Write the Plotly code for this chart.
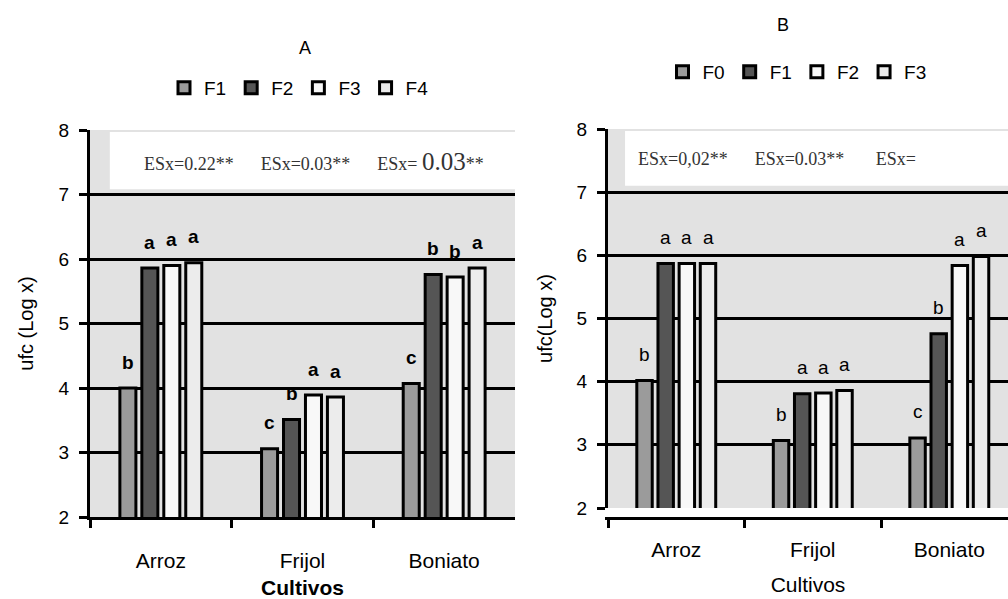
import plotly.graph_objects as go

# ---------------- data ----------------
cultivos = ["Arroz", "Frijol", "Boniato"]

# Panel A
series_A = ["F1", "F2", "F3", "F4"]
A_F1 = [4.00, 3.06, 4.07]
A_F2 = [5.86, 3.51, 5.76]
A_F3 = [5.90, 3.89, 5.72]
A_F4 = [5.94, 3.86, 5.86]
letters_A_F1 = ["b", "c", "c"]
letters_A_F2 = ["a", "b", "b"]
letters_A_F3 = ["a", "a", "b"]
letters_A_F4 = ["a", "a", "a"]

# Panel B
series_B = ["F0", "F1", "F2", "F3"]
B_F0 = [4.02, 3.07, 3.11]
B_F1 = [5.87, 3.81, 4.76]
B_F2 = [5.87, 3.82, 5.84]
B_F3 = [5.87, 3.86, 5.98]
letters_B_F0 = ["b", "b", "c"]
letters_B_F1 = ["a", "a", "b"]
letters_B_F2 = ["a", "a", "a"]
letters_B_F3 = ["a", "a", "a"]

y_ticks = [2, 3, 4, 5, 6, 7, 8]
esx_A = "ESx=0.22**      ESx=0.03**      ESx= <span style='font-size:25px'>0.03</span>**"
esx_B = "ESx=0,02**      ESx=0.03**       ESx="

# ---------------- styling ----------------
colors = ["#9b9b9b", "#555555", "#f8f8f8", "#ececec"]
BARGAP = 0.38
BARGROUPGAP = 0.27
BG = "#e2e2e2"
SANS = "Liberation Sans, Arial, sans-serif"
SERIF = "Liberation Serif, Times New Roman, serif"

fig = go.Figure()

vals_A = [A_F1, A_F2, A_F3, A_F4]
lets_A = [letters_A_F1, letters_A_F2, letters_A_F3, letters_A_F4]
vals_B = [B_F0, B_F1, B_F2, B_F3]
lets_B = [letters_B_F0, letters_B_F1, letters_B_F2, letters_B_F3]

for i, name in enumerate(series_A):
    fig.add_bar(x=cultivos, y=vals_A[i], name=name, xaxis="x", yaxis="y",
                legend="legend",
                marker=dict(color=colors[i], line=dict(color="black", width=3)))
for i, name in enumerate(series_B):
    fig.add_bar(x=cultivos, y=vals_B[i], name=name, xaxis="x2", yaxis="y2",
                legend="legend2",
                marker=dict(color=colors[i], line=dict(color="black", width=3)))

# significance letters above each bar
slot = (1 - BARGAP) / 4
annotations = []
for vals, lets, xr, yr, bold in [(vals_A, lets_A, "x", "y", True),
                                 (vals_B, lets_B, "x2", "y2", False)]:
    for i in range(4):
        for j in range(len(cultivos)):
            xpos = j - (1 - BARGAP) / 2 + slot * (i + 0.5)
            annotations.append(dict(
                x=xpos, y=vals[i][j], xref=xr, yref=yr, text=lets[i][j],
                showarrow=False, xanchor="center", yanchor="middle", yshift=26,
                font=dict(family=SANS, size=19, color="black",
                          weight="bold" if bold else "normal")))

def paper_note(px, py, text, size, family=SANS, xanchor="center", color="black"):
    return dict(x=px / 1008, y=1 - py / 599, xref="paper", yref="paper",
                text=text, showarrow=False, xanchor=xanchor, yanchor="middle",
                font=dict(family=family, size=size, color=color))

annotations.append(paper_note(305, 48, "A", 18))
annotations.append(paper_note(783, 25, "B", 18))
annotations.append(paper_note(314, 161, esx_A, 18, SERIF, color="#333333"))
annotations.append(paper_note(636, 159, esx_B, 18, SERIF, xanchor="left", color="#333333"))

shapes = [
    dict(type="rect", xref="x", yref="y", x0=-0.36, x1=2.5, y0=7.08, y1=7.97,
         fillcolor="white", line=dict(width=0), layer="below"),
    dict(type="rect", xref="x2", yref="y2", x0=-0.375, x1=2.43, y0=7.1, y1=7.97,
         fillcolor="white", line=dict(width=0), layer="below"),
]

def xaxis(domain, rng, title, bold, standoff, tstand):
    return dict(domain=domain, range=rng, type="category", automargin=False,
                showline=True, linecolor="black", linewidth=3,
                ticks="outside", ticklen=8, tickwidth=3, tickcolor="black",
                tickson="boundaries", showgrid=False, fixedrange=True,
                ticklabelstandoff=standoff,
                tickfont=dict(family=SANS, size=21, color="black"),
                title=dict(text=title, standoff=tstand,
                           font=dict(family=SANS, size=21, color="black",
                                     weight="bold" if bold else "normal")))

def yaxis(domain, anchor, title, tstand):
    return dict(domain=domain, anchor=anchor, range=[2, 8], tickvals=y_ticks,
                automargin=False, fixedrange=True,
                showline=True, linecolor="black", linewidth=3,
                ticks="outside", ticklen=8, tickwidth=3, tickcolor="black",
                showgrid=True, gridcolor="black", gridwidth=3, zeroline=False,
                ticklabelstandoff=6,
                tickfont=dict(family=SANS, size=19, color="black"),
                title=dict(text=title, standoff=tstand,
                           font=dict(family=SANS, size=20, color="black")))

fig.update_layout(
    width=1008, height=599,
    margin=dict(l=0, r=0, t=0, b=0, autoexpand=False),
    paper_bgcolor="white", plot_bgcolor=BG,
    barmode="group", bargap=BARGAP, bargroupgap=BARGROUPGAP,
    xaxis=xaxis([90 / 1008, 515 / 1008], [-0.5, 2.5], "Cultivos", True, 23, 12),
    yaxis=yaxis([1 - 517 / 599, 1 - 130 / 599], "x", "ufc (Log x)", 20),
    xaxis2=xaxis([608 / 1008, 1.0], [-0.5, 2.43], "Cultivos", False, 12, 18),
    yaxis2=yaxis([1 - 508 / 599, 1 - 129 / 599], "x2", "ufc(Log x)", 19),
    legend=dict(orientation="h", x=299 / 1008, xanchor="center",
                y=1 - 88 / 599, yanchor="middle", bgcolor="rgba(0,0,0,0)",
                itemwidth=30,
                font=dict(family=SANS, size=19, color="black")),
    legend2=dict(orientation="h", x=797 / 1008, xanchor="center",
                 y=1 - 72 / 599, yanchor="middle", bgcolor="rgba(0,0,0,0)",
                 itemwidth=30,
                 font=dict(family=SANS, size=19, color="black")),
    annotations=annotations,
    shapes=shapes,
)

fig.write_html("out.html", config={"displayModeBar": False},
               post_script="document.body.style.margin='0';")
